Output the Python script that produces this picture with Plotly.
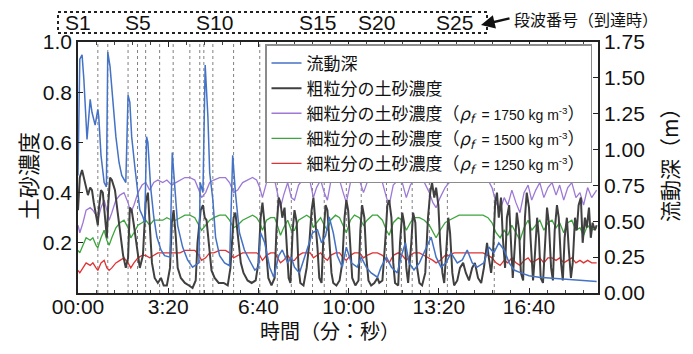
import plotly.graph_objects as go

# ---------------- data ----------------
x_tickvals = [0, 200, 400, 600, 800, 1000]
x_ticktext = ["00:00", "3:20", "6:40", "10:00", "13:20", "16:40"]

surge_times = [44, 66, 111, 132, 150, 181, 211, 248, 270, 279, 299, 345, 403,
               442, 473, 520, 546, 595, 628, 684, 717, 741, 779, 819, 923]
surge_labels = ["S1", "S5", "S10", "S15", "S20", "S25"]
surge_label_t = [0, 133, 303, 530, 661, 835]

# flow depth (m, right axis)
t_depth = [0, 4, 9, 13, 20, 27, 31, 38, 44, 46,
           51, 58, 63, 66, 71, 77, 84, 91, 97, 106,
           111, 115, 119, 126, 132, 137, 144, 148, 152, 155,
           161, 168, 175, 184, 192, 204, 209, 215, 221, 232,
           243, 254, 268, 271, 277, 282, 288, 292, 299, 305,
           314, 325, 336, 343, 349, 358, 369, 380, 392, 400,
           405, 414, 425, 434, 445, 453, 465, 473, 480, 491,
           504, 520, 531, 540, 549, 557, 566, 575, 586, 595,
           606, 619, 628, 639, 650, 664, 672, 684, 695, 708,
           717, 726, 734, 745, 757, 774, 783, 794, 805, 816,
           827, 841, 852, 863, 874, 885, 900, 911, 922, 933,
           945, 956, 967, 982, 1000, 1022, 1044, 1066, 1088, 1110,
           1133, 1150]
depth = [0.82, 1.63, 1.66, 1.49, 1.07, 1.35, 1.26, 1.17, 1.28, 1.23,
         0.96, 0.77, 0.74, 1.68, 1.58, 1.37, 1.09, 0.91, 0.82, 0.77,
         1.38, 1.33, 1.09, 0.88, 0.70, 0.58, 0.53, 0.49, 1.09, 1.05,
         0.74, 0.53, 0.39, 0.30, 0.26, 0.25, 0.98, 0.70, 0.47, 0.32,
         0.23, 0.18, 0.21, 0.77, 0.70, 1.59, 1.23, 0.84, 0.65, 0.39,
         0.26, 0.21, 0.19, 0.96, 0.70, 0.42, 0.30, 0.23, 0.16, 0.18,
         0.42, 0.35, 0.18, 0.11, 0.26, 0.30, 0.21, 0.25, 0.18, 0.14,
         0.26, 0.42, 0.44, 0.35, 0.40, 0.53, 0.42, 0.26, 0.18, 0.32,
         0.21, 0.18, 0.25, 0.18, 0.14, 0.11, 0.18, 0.25, 0.18, 0.14,
         0.26, 0.35, 0.21, 0.16, 0.21, 0.32, 0.39, 0.25, 0.18, 0.21,
         0.28, 0.21, 0.23, 0.30, 0.21, 0.18, 0.21, 0.32, 0.28, 0.35,
         0.30, 0.21, 0.16, 0.14, 0.12, 0.11, 0.105, 0.10, 0.09, 0.09,
         0.08, 0.08]

# coarse fraction concentration
t_coarse = [0, 4, 9, 13, 18, 22, 27, 31, 35, 40,
            44, 46, 51, 55, 60, 64, 67, 71, 75, 82,
            88, 93, 100, 106, 111, 115, 119, 124, 131, 137,
            144, 150, 155, 159, 164, 170, 177, 184, 190, 197,
            204, 208, 212, 217, 221, 228, 237, 246, 254, 261,
            265, 272, 277, 281, 285, 290, 296, 303, 312, 323,
            332, 338, 345, 349, 354, 361, 367, 376, 385, 394,
            400, 405, 409, 414, 418, 422, 429, 436, 440, 445,
            449, 453, 458, 462, 467, 471, 476, 480, 485, 489,
            493, 500, 507, 513, 518, 522, 526, 531, 535, 540,
            544, 549, 553, 557, 562, 566, 573, 580, 586, 591,
            595, 599, 604, 608, 615, 622, 626, 630, 635, 639,
            644, 650, 657, 664, 668, 675, 681, 686, 690, 695,
            699, 703, 710, 714, 719, 723, 728, 732, 739, 743,
            748, 752, 757, 763, 770, 776, 781, 785, 790, 794,
            799, 803, 808, 812, 816, 821, 825, 830, 834, 841,
            847, 854, 860, 867, 874, 880, 887, 894, 900, 907,
            911, 916, 920, 925, 929, 933, 938, 942, 947, 951,
            956, 960, 964, 969, 973, 978, 982, 987, 991, 995,
            1000, 1004, 1009, 1013, 1018, 1022, 1026, 1031, 1035, 1040,
            1044, 1049, 1053, 1057, 1062, 1066, 1071, 1075, 1079, 1084,
            1088, 1093, 1097, 1102, 1106, 1110, 1115, 1119, 1124, 1128,
            1133, 1137, 1141, 1146, 1150]
c_coarse = [0.33, 0.46, 0.49, 0.46, 0.41, 0.39, 0.42, 0.41, 0.36, 0.30,
            0.27, 0.33, 0.41, 0.40, 0.30, 0.22, 0.35, 0.46, 0.45, 0.41,
            0.32, 0.24, 0.15, 0.10, 0.14, 0.34, 0.33, 0.27, 0.17, 0.10,
            0.15, 0.36, 0.40, 0.27, 0.12, 0.06, 0.04, 0.06, 0.03, 0.03,
            0.10, 0.28, 0.33, 0.22, 0.10, 0.06, 0.04, 0.03, 0.02, 0.05,
            0.20, 0.33, 0.35, 0.30, 0.29, 0.20, 0.09, 0.06, 0.04, 0.04,
            0.03, 0.10, 0.30, 0.32, 0.24, 0.12, 0.08, 0.05, 0.04, 0.05,
            0.12, 0.30, 0.36, 0.27, 0.15, 0.06, 0.03, 0.06, 0.25, 0.38,
            0.36, 0.30, 0.34, 0.20, 0.06, 0.04, 0.25, 0.33, 0.28, 0.10,
            0.04, 0.03, 0.10, 0.20, 0.33, 0.38, 0.30, 0.18, 0.06, 0.04,
            0.22, 0.35, 0.33, 0.20, 0.08, 0.04, 0.03, 0.05, 0.12, 0.30,
            0.37, 0.33, 0.18, 0.06, 0.03, 0.05, 0.25, 0.35, 0.30, 0.15,
            0.05, 0.03, 0.04, 0.06, 0.04, 0.05, 0.20, 0.35, 0.37, 0.30,
            0.12, 0.04, 0.03, 0.20, 0.32, 0.28, 0.10, 0.04, 0.20, 0.32,
            0.28, 0.10, 0.04, 0.03, 0.08, 0.30, 0.40, 0.44, 0.38, 0.42,
            0.35, 0.20, 0.08, 0.04, 0.15, 0.30, 0.24, 0.08, 0.03, 0.05,
            0.10, 0.12, 0.08, 0.05, 0.10, 0.12, 0.06, 0.04, 0.10, 0.20,
            0.14, 0.08, 0.15, 0.36, 0.40, 0.30, 0.38, 0.22, 0.10, 0.30,
            0.35, 0.18, 0.06, 0.20, 0.32, 0.25, 0.08, 0.05, 0.30, 0.40,
            0.34, 0.20, 0.05, 0.15, 0.30, 0.22, 0.06, 0.04, 0.20, 0.34,
            0.28, 0.10, 0.05, 0.25, 0.35, 0.30, 0.12, 0.05, 0.22, 0.30,
            0.18, 0.06, 0.12, 0.30, 0.25, 0.35, 0.38, 0.20, 0.30, 0.26,
            0.34, 0.22, 0.28, 0.25, 0.27]

# fine fraction concentrations (shared time grid)
t_fine = [0, 4, 11, 18, 27, 33, 40, 44, 51, 58,
          64, 69, 75, 84, 93, 102, 111, 117, 124, 133,
          142, 150, 159, 168, 177, 188, 197, 208, 217, 226,
          237, 248, 259, 268, 274, 283, 292, 301, 314, 327,
          336, 345, 354, 365, 376, 387, 396, 403, 409, 418,
          427, 436, 442, 449, 456, 465, 473, 480, 489, 498,
          507, 515, 522, 529, 538, 546, 553, 560, 571, 580,
          588, 595, 604, 613, 624, 633, 641, 653, 664, 675,
          684, 690, 699, 710, 719, 728, 737, 745, 757, 768,
          779, 787, 794, 803, 814, 823, 834, 845, 858, 872,
          885, 898, 909, 918, 927, 936, 945, 953, 962, 971,
          980, 989, 998, 1006, 1015, 1024, 1033, 1042, 1051, 1060,
          1068, 1077, 1086, 1095, 1104, 1113, 1121, 1130, 1139, 1150]
c_fine_1750 = [0.27, 0.24, 0.28, 0.33, 0.34, 0.33, 0.31, 0.29, 0.34, 0.37,
               0.33, 0.29, 0.32, 0.37, 0.39, 0.40, 0.36, 0.32, 0.35, 0.40,
               0.43, 0.44, 0.41, 0.44, 0.45, 0.44, 0.45, 0.43, 0.44, 0.45,
               0.46, 0.46, 0.45, 0.41, 0.38, 0.40, 0.44, 0.45, 0.46, 0.46,
               0.44, 0.40, 0.41, 0.44, 0.45, 0.46, 0.45, 0.42, 0.38, 0.44,
               0.45, 0.45, 0.40, 0.34, 0.39, 0.44, 0.38, 0.37, 0.43, 0.45,
               0.46, 0.44, 0.38, 0.42, 0.45, 0.40, 0.37, 0.44, 0.46, 0.45,
               0.40, 0.36, 0.44, 0.46, 0.45, 0.40, 0.44, 0.46, 0.46, 0.44,
               0.38, 0.35, 0.43, 0.45, 0.44, 0.38, 0.43, 0.45, 0.45, 0.44,
               0.40, 0.36, 0.34, 0.38, 0.42, 0.44, 0.45, 0.46, 0.47, 0.46,
               0.47, 0.46, 0.45, 0.42, 0.36, 0.33, 0.38, 0.35, 0.41, 0.36,
               0.32, 0.40, 0.43, 0.37, 0.41, 0.44, 0.38, 0.42, 0.44, 0.39,
               0.43, 0.37, 0.42, 0.44, 0.38, 0.40, 0.35, 0.42, 0.38, 0.41]
c_fine_1500 = [0.17, 0.16, 0.19, 0.22, 0.21, 0.22, 0.19, 0.18, 0.22, 0.25,
               0.21, 0.19, 0.22, 0.26, 0.28, 0.29, 0.26, 0.22, 0.24, 0.27,
               0.28, 0.29, 0.27, 0.29, 0.29, 0.29, 0.30, 0.29, 0.29, 0.30,
               0.31, 0.31, 0.30, 0.27, 0.25, 0.27, 0.29, 0.30, 0.31, 0.31,
               0.29, 0.26, 0.27, 0.29, 0.30, 0.31, 0.30, 0.28, 0.25, 0.29,
               0.30, 0.30, 0.27, 0.23, 0.26, 0.29, 0.25, 0.25, 0.29, 0.30,
               0.31, 0.30, 0.26, 0.28, 0.30, 0.27, 0.25, 0.29, 0.31, 0.30,
               0.27, 0.24, 0.29, 0.31, 0.30, 0.27, 0.29, 0.31, 0.31, 0.29,
               0.25, 0.23, 0.28, 0.30, 0.29, 0.25, 0.28, 0.30, 0.30, 0.29,
               0.27, 0.24, 0.22, 0.25, 0.28, 0.29, 0.30, 0.31, 0.31, 0.31,
               0.31, 0.31, 0.30, 0.28, 0.24, 0.22, 0.25, 0.23, 0.27, 0.24,
               0.21, 0.26, 0.29, 0.25, 0.27, 0.29, 0.25, 0.28, 0.29, 0.26,
               0.28, 0.24, 0.28, 0.29, 0.25, 0.26, 0.23, 0.27, 0.25, 0.26]
c_fine_1250 = [0.09, 0.08, 0.10, 0.12, 0.11, 0.12, 0.10, 0.09, 0.12, 0.13,
               0.10, 0.09, 0.10, 0.12, 0.13, 0.14, 0.12, 0.10, 0.12, 0.14,
               0.15, 0.15, 0.14, 0.15, 0.16, 0.16, 0.16, 0.16, 0.16, 0.16,
               0.17, 0.17, 0.17, 0.15, 0.13, 0.14, 0.16, 0.16, 0.17, 0.17,
               0.16, 0.14, 0.15, 0.16, 0.16, 0.16, 0.16, 0.15, 0.13, 0.15,
               0.16, 0.16, 0.14, 0.12, 0.13, 0.15, 0.13, 0.13, 0.15, 0.16,
               0.16, 0.16, 0.14, 0.15, 0.16, 0.14, 0.13, 0.15, 0.16, 0.16,
               0.14, 0.13, 0.15, 0.16, 0.16, 0.14, 0.15, 0.16, 0.16, 0.15,
               0.13, 0.12, 0.15, 0.16, 0.15, 0.13, 0.15, 0.16, 0.16, 0.15,
               0.14, 0.13, 0.12, 0.13, 0.15, 0.15, 0.16, 0.16, 0.16, 0.16,
               0.16, 0.16, 0.15, 0.14, 0.12, 0.11, 0.13, 0.12, 0.14, 0.12,
               0.11, 0.13, 0.14, 0.12, 0.13, 0.14, 0.12, 0.14, 0.14, 0.13,
               0.14, 0.12, 0.13, 0.14, 0.12, 0.13, 0.12, 0.13, 0.12, 0.12]

assert len(t_depth) == len(depth)
assert len(t_coarse) == len(c_coarse)
assert len(t_fine) == len(c_fine_1750) == len(c_fine_1500) == len(c_fine_1250)

# ---------------- layout helpers ----------------
# the page body has an 8 px margin, so the figure is drawn 8 px right and down
OFF = 8
W, H = 677, 338
PX0, PX1, PY0, PY1 = 78, 598, 42, 293          # wanted plot area in window pixels
ML, MT = PX0 - OFF, PY0 - OFF
MR, MB = W - (PX1 - OFF), H - (PY1 - OFF)
PW, PH = PX1 - PX0, PY1 - PY0
def px(x):
    return (x - PX0) / PW
def py(y):
    return (PY1 - y) / PH

NUM = "Liberation Sans, Arial, sans-serif"
JP = "Noto Sans CJK JP, sans-serif"

C_BLUE = "#4472C4"
C_BLACK = "#404040"
C_PURPLE = "#9E78D6"
C_GREEN = "#3DA53D"
C_RED = "#E03232"

def fine_name(rho):
    return ("細粒分の土砂濃度（<i>ρ<sub>f</sub></i>  "
            "<span style='font-size:14px;font-family:Liberation Sans'>= "
            + str(rho) + " kg m<sup>-3</sup></span>）")

fig = go.Figure()
fig.add_trace(go.Scatter(x=t_fine, y=c_fine_1750, mode="lines", name=fine_name(1750),
                         line=dict(color=C_PURPLE, width=1.3), legendrank=3))
fig.add_trace(go.Scatter(x=t_fine, y=c_fine_1500, mode="lines", name=fine_name(1500),
                         line=dict(color=C_GREEN, width=1.3), legendrank=4))
fig.add_trace(go.Scatter(x=t_fine, y=c_fine_1250, mode="lines", name=fine_name(1250),
                         line=dict(color=C_RED, width=1.3), legendrank=5))
fig.add_trace(go.Scatter(x=t_coarse, y=c_coarse, mode="lines", name="粗粒分の土砂濃度",
                         line=dict(color=C_BLACK, width=2), legendrank=2))
fig.add_trace(go.Scatter(x=t_depth, y=depth, mode="lines", name="流動深", yaxis="y2",
                         line=dict(color=C_BLUE, width=1.5), legendrank=1))

shapes = []
for t in surge_times:
    shapes.append(dict(type="line", xref="x", yref="paper", x0=t, x1=t, y0=0, y1=1,
                       line=dict(color="#808080", width=1, dash="3px,3px"), layer="below"))
# dotted frame around surge labels
shapes.append(dict(type="rect", xref="paper", yref="paper",
                   x0=px(58), x1=px(487), y0=py(33), y1=py(12),
                   line=dict(color="#222222", width=2, dash="dot")))

annotations = []
for lab, t in zip(surge_labels, surge_label_t):
    annotations.append(dict(x=t, y=py(22), xref="x", yref="paper", text=lab,
                            showarrow=False, xanchor="center", yanchor="middle",
                            font=dict(family=NUM, size=21, color="#111")))
annotations.append(dict(x=px(512), y=py(18.5), xref="paper", yref="paper",
                        text="段波番号（到達時）", showarrow=False,
                        xanchor="left", yanchor="middle",
                        font=dict(family=JP, size=16, color="#111")))
annotations.append(dict(x=px(481), y=py(25), xref="paper", yref="paper", text="",
                        showarrow=True, ax=30, ay=-7, arrowhead=2, arrowsize=1.1,
                        arrowwidth=2.5, arrowcolor="#111"))
annotations.append(dict(x=px(27), y=py(176), xref="paper", yref="paper",
                        text="土砂濃度", textangle=-90, showarrow=False,
                        xanchor="center", yanchor="middle",
                        font=dict(family=JP, size=22, color="#111")))
annotations.append(dict(x=px(669), y=py(160), xref="paper", yref="paper",
                        text="流動深（m）", textangle=-90, showarrow=False,
                        xanchor="center", yanchor="middle",
                        font=dict(family=JP, size=21, color="#111")))
annotations.append(dict(x=px(330), y=py(330), xref="paper", yref="paper",
                        text="時間（分：秒）", showarrow=False,
                        xanchor="center", yanchor="middle",
                        font=dict(family=JP, size=20, color="#111")))

fig.update_layout(
    width=W, height=H,
    margin=dict(l=ML, r=MR, t=MT, b=MB, autoexpand=False),
    paper_bgcolor="white", plot_bgcolor="white",
    showlegend=True,
    legend=dict(x=px(265), y=py(44), xanchor="left", yanchor="top",
                bgcolor="white", bordercolor="#8C8C8C", borderwidth=1.5,
                font=dict(family=JP, size=17, color="#111"),
                traceorder="normal", itemwidth=30),
    xaxis=dict(range=[0, 1153], tickvals=x_tickvals, ticktext=x_ticktext,
               showgrid=False, zeroline=False, showline=True, linecolor="#222",
               linewidth=1.5, mirror="ticks", ticks="inside", ticklen=5,
               tickcolor="#222", ticklabelstandoff=-6,
               minor=dict(dtick=40, ticks="inside", ticklen=3, tickcolor="#444"),
               tickfont=dict(family=NUM, size=21, color="#111")),
    yaxis=dict(range=[0, 1.0], tickvals=[0.2, 0.4, 0.6, 0.8, 1.0],
               ticktext=["0.2", "0.4", "0.6", "0.8", "1.0"],
               showgrid=False, zeroline=False, showline=True, linecolor="#222",
               linewidth=1.5, ticks="inside", ticklen=5, tickcolor="#222",
               tickfont=dict(family=NUM, size=21, color="#111")),
    yaxis2=dict(range=[0, 1.75], overlaying="y", side="right",
                tickvals=[0, 0.25, 0.5, 0.75, 1.0, 1.25, 1.5, 1.75],
                ticktext=["0.00", "0.25", "0.50", "0.75", "1.00", "1.25", "1.50", "1.75"],
                showgrid=False, zeroline=False, showline=True, linecolor="#222",
                linewidth=1.5, ticks="inside", ticklen=5, tickcolor="#222",
                tickfont=dict(family=NUM, size=21, color="#111")),
    shapes=shapes,
    annotations=annotations,
)

fig.write_html("out.html")
